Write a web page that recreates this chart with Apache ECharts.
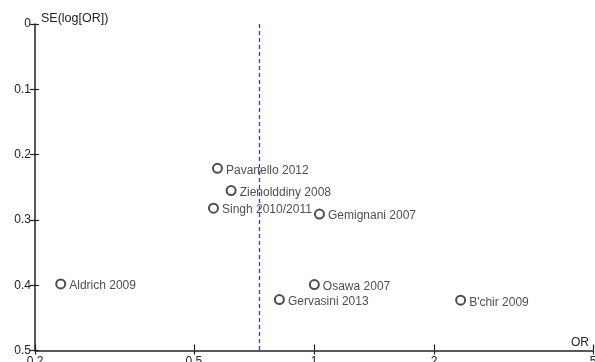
<!DOCTYPE html>
<html><head><meta charset="utf-8">
<script src="https://cdn.jsdelivr.net/npm/echarts@6/dist/echarts.min.js"></script>
<style>html,body{margin:0;padding:0;background:#fff}#c{width:595px;height:362px}</style>
</head><body><div id="c"></div>
<script>
const studies = ['Pavanello 2012','Zienolddiny 2008','Singh 2010/2011','Gemignani 2007','Aldrich 2009','Osawa 2007','Gervasini 2013',"B'chir 2009"];
const orValues = [0.573,0.620,0.560,1.032,0.232,1.002,0.819,2.33];
const seValues = [0.221,0.255,0.282,0.291,0.398,0.399,0.422,0.423];
const pooledOR = 0.728;
const xTicks = [0.2,0.5,1,2,5];
const yMin = 0, yMax = 0.5, yStep = 0.1;

const font = 'Liberation Sans, Arial, sans-serif';
const axisColor = '#222';
const chart = echarts.init(document.getElementById('c'), null, {renderer:'canvas'});
const data = studies.map((s,i)=>({name:s, value:[orValues[i], seValues[i]]}));
const xBase = {type:'log', logBase:10, min:xTicks[0], max:xTicks[xTicks.length-1], gridIndex:0};
const yBase = {type:'value', inverse:true, min:yMin, max:yMax, interval:yStep, gridIndex:0};
chart.setOption({
  animation:false,
  grid:{left:35, right:2, top:24, bottom:11.5, containLabel:false, outerBoundsMode:'none'},
  xAxis:[
    Object.assign({}, xBase, {
      position:'bottom',
      name:'OR', nameLocation:'end', nameGap:-4,
      nameTextStyle:{color:axisColor, fontFamily:font, fontSize:12, align:'right', verticalAlign:'bottom', padding:[0,0,2,0]},
      axisLine:{show:true, onZero:false, lineStyle:{color:axisColor, width:1.5}},
      axisTick:{show:true, inside:false, length:4, lineStyle:{color:axisColor, width:1.2}, customValues:xTicks},
      axisLabel:{show:true, color:axisColor, fontFamily:font, fontSize:12, margin:5, customValues:xTicks, formatter:v=>String(v)},
      splitLine:{show:false}, minorTick:{show:false}
    }),
    Object.assign({}, xBase, {
      position:'bottom',
      axisLine:{show:false, onZero:false},
      axisTick:{show:true, inside:true, length:6, lineStyle:{color:axisColor, width:1.2}, customValues:xTicks},
      axisLabel:{show:false}, splitLine:{show:false}
    })
  ],
  yAxis:[
    Object.assign({}, yBase, {
      position:'left',
      name:'SE(log[OR])', nameLocation:'start', nameGap:-1,
      nameTextStyle:{color:axisColor, fontFamily:font, fontSize:12.5, align:'left', verticalAlign:'bottom', padding:[0,0,0,6]},
      axisLine:{show:true, onZero:false, lineStyle:{color:axisColor, width:1.5}},
      axisTick:{show:true, inside:false, length:5, lineStyle:{color:axisColor, width:1.2}},
      axisLabel:{show:true, color:axisColor, fontFamily:font, fontSize:12, margin:4, formatter:v=>String(+v.toFixed(1))},
      splitLine:{show:false}
    }),
    Object.assign({}, yBase, {
      position:'left',
      axisLine:{show:false, onZero:false},
      axisTick:{show:true, inside:true, length:4, lineStyle:{color:axisColor, width:1.2}},
      axisLabel:{show:false}, splitLine:{show:false}
    })
  ],
  series:[{
    type:'scatter', xAxisIndex:0, yAxisIndex:0,
    data:data,
    symbol:'emptyCircle', symbolSize:9,
    itemStyle:{color:'#222', borderColor:'#222', borderWidth:1.5},
    label:{show:true, position:'right', distance:3, offset:[0,2], formatter:p=>p.name, color:'#222', fontFamily:font, fontSize:12},
    markLine:{
      silent:true, symbol:'none', label:{show:false},
      lineStyle:{color:'#3a3ae6', type:[4,3], width:1.3},
      data:[{xAxis:pooledOR}]
    }
  }]
});
</script></body></html>
